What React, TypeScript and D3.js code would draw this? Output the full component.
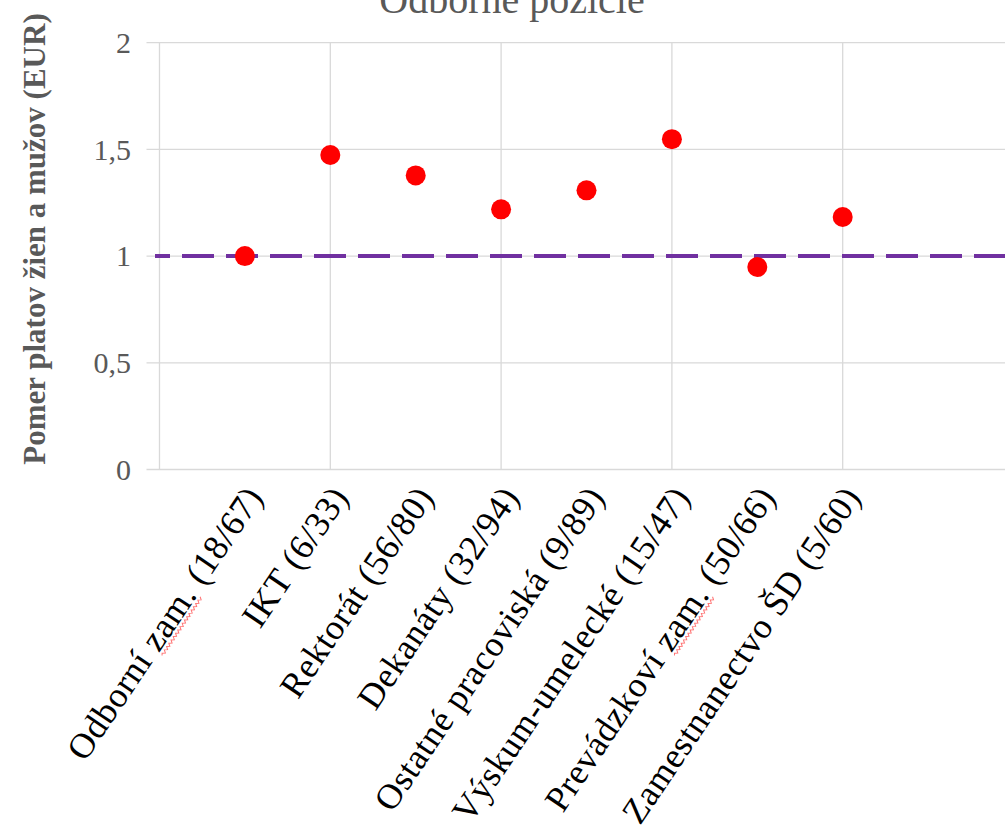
import { useLayoutEffect, useRef, useState } from "react";
import * as d3 from "d3";

const categories = [
  "Odborní zam. (18/67)",
  "IKT (6/33)",
  "Rektorát (56/80)",
  "Dekanáty (32/94)",
  "Ostatné pracoviská (9/89)",
  "Výskum-umelecké (15/47)",
  "Prevádzkoví zam. (50/66)",
  "Zamestnanectvo ŠD (5/60)",
];
const ratios = [1.0, 1.474, 1.378, 1.219, 1.308, 1.548, 0.949, 1.183];
const yTicks = [0, 0.5, 1, 1.5, 2];
const xGridIdx = [-1, 1, 3, 5, 7];
const referenceLine = 1;
const misspelled = "zam.";

const WIDTH = 1005;
const HEIGHT = 837;
const FONT = "'Liberation Serif', serif";
const GRID = "#D9D9D9";
const GRAY = "#595959";
const LABEL_ANGLE = -56;
const LABEL_SIZE = 35.5;

type Span = { start: number; end: number };

// zigzag path imitating the spell-check underline
const wavy = (x0: number, x1: number, y: number) => {
  let d = `M${x0},${y}`;
  let up = true;
  for (let x = x0 + 2; x <= x1; x += 2) {
    d += `L${x},${y + (up ? -1.3 : 1.3)}`;
    up = !up;
  }
  return d;
};

export default function App() {
  const x = d3.scaleLinear().domain([-1, 9]).range([159.5, 1013.5]);
  const y = d3.scaleLinear().domain([0, 2]).range([469.5, 42.7]);

  const labelRefs = useRef<(SVGTextElement | null)[]>([]);
  const [spans, setSpans] = useState<(Span | null)[]>([]);

  useLayoutEffect(() => {
    const res = categories.map((c, i) => {
      const el = labelRefs.current[i];
      const idx = c.indexOf(misspelled);
      if (!el || idx < 0) return null;
      const total = el.getComputedTextLength();
      const start = -total + el.getSubStringLength(0, idx);
      const len = el.getSubStringLength(idx, misspelled.length);
      return { start, end: start + len };
    });
    setSpans(res);
  }, []);

  const left = x(-1);
  const right = WIDTH;

  return (
    <svg
      width={WIDTH}
      height={HEIGHT}
      style={{ position: "absolute", left: 0, top: 0, background: "#fff" }}
      fontFamily={FONT}
    >
      <text x={512} y={13} textAnchor="middle" fontSize={40} fill={GRAY}>
        Odborné pozície
      </text>

      {/* gridlines */}
      {yTicks.map((t) => (
        <line
          key={"h" + t}
          x1={left - 13}
          x2={right}
          y1={y(t)}
          y2={y(t)}
          stroke={GRID}
          strokeWidth={1.3}
        />
      ))}
      {xGridIdx.map((i) => (
        <line
          key={"v" + i}
          x1={x(i)}
          x2={x(i)}
          y1={y(2)}
          y2={y(0)}
          stroke={GRID}
          strokeWidth={1.3}
        />
      ))}

      {/* y tick labels */}
      {yTicks.map((t) => (
        <text
          key={"t" + t}
          x={131}
          y={y(t)}
          dy="0.34em"
          textAnchor="end"
          fontSize={30}
          fill={GRAY}
        >
          {String(t).replace(".", ",")}
        </text>
      ))}

      <text
        transform={`translate(45,239) rotate(-90)`}
        textAnchor="middle"
        fontSize={31}
        fontWeight="bold"
        fill={GRAY}
      >
        Pomer platov žien a mužov (EUR)
      </text>

      {/* reference line */}
      <line
        x1={155}
        x2={right}
        y1={y(referenceLine)}
        y2={y(referenceLine)}
        stroke="#7030A0"
        strokeWidth={4}
        strokeDasharray="32 12"
        strokeDashoffset={17}
      />

      {/* points */}
      {ratios.map((v, i) => (
        <circle key={"p" + i} cx={x(i)} cy={y(v)} r={10} fill="#FF0000" />
      ))}

      {/* category labels */}
      {categories.map((c, i) => (
        <g
          key={"l" + i}
          transform={`translate(${x(i) + 9},490) rotate(${LABEL_ANGLE})`}
        >
          <text
            ref={(el) => {
              labelRefs.current[i] = el;
            }}
            textAnchor="end"
            dy="0.35em"
            fontSize={LABEL_SIZE}
            letterSpacing={0.6}
            fill="#000"
          >
            {c}
          </text>
          {spans[i] && (
            <path
              d={wavy(spans[i]!.start, spans[i]!.end, LABEL_SIZE * 0.35 + 4)}
              fill="none"
              stroke="#FF5050"
              strokeOpacity={0.8}
              strokeWidth={1}
            />
          )}
        </g>
      ))}
    </svg>
  );
}
